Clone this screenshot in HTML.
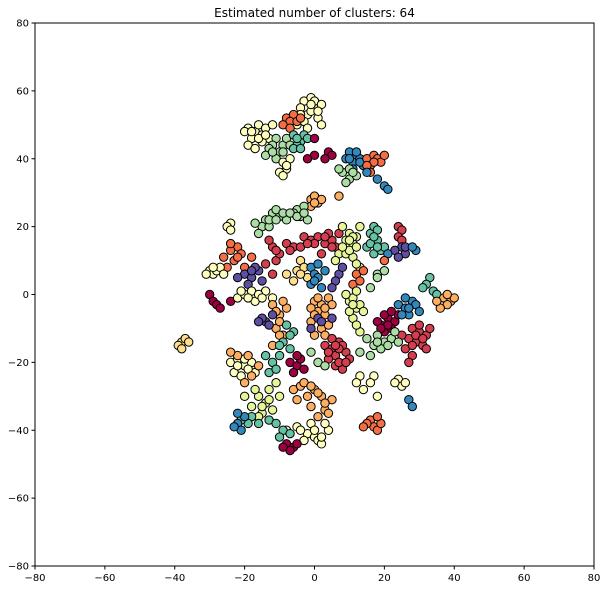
<!DOCTYPE html>
<html><head><meta charset="utf-8"><style>
body{margin:0;background:#fff;}
svg text{font-family:"DejaVu Sans","Liberation Sans",sans-serif;}
</style></head><body>
<svg id="chart" width="606" height="590" xmlns="http://www.w3.org/2000/svg">
<rect width="606" height="590" fill="#fff"/>
<text x="314.5" y="17" font-size="12" text-anchor="middle">Estimated number of clusters: 64</text>
<g id="marks"></g>
<rect x="35" y="23" width="559" height="543" fill="none" stroke="#000" stroke-width="1"/>
<g id="axes"></g>
</svg>
<script>
const palette = ["#9e0142","#d53e4f","#f46d43","#fdae61","#fee08b","#ffffbf","#e6f598","#abdda4","#66c2a5","#3288bd","#5e4fa2"];
const xTicks = [-80,-60,-40,-20,0,20,40,60,80];
const yTicks = [-80,-60,-40,-20,0,20,40,60,80];
const clusterColors = [5,2,5,7,8,5,0,9,2,7,9,3,7,5,1,6,8,1,10,9,2,5,10,1,4,9,10,2,7,0,5,3,10,8,3,10,1,6,0,9,1,7,8,3,5,3,4,0,8,6,8,9,3,5,8,0,2,5,9,5,7];
const clusterPoints = [
[[-3,57],[-1,58],[-4,55],[0,55],[-2,53],[1,52],[-5,50],[2,50],[-3,51],[0,57],[-1,54],[2,56],[-2,49],[-1,56],[1,54],[-4,53]],
[[-8,52],[-6,53],[-7,51],[-5,51],[-9,50],[-4,52],[-7,49]],
[[-19,49],[-17,48],[-15,47],[-18,46],[-20,48],[-16,50],[-14,49],[-13,46],[-19,44],[-17,43],[-15,45],[-12,50],[-18,48],[-16,46],[-14,47]],
[[-11,46],[-9,44],[-8,46],[-12,44],[-10,42],[-13,43],[-14,41],[-11,40],[-7,44],[-12,42],[-9,42]],
[[-6,47],[-4,45],[-5,44],[-3,47],[-6,43],[-2,46],[-5,46],[-4,43]],
[[-9,39],[-8,37],[-10,36],[-7,40],[-9,35],[-8,38]],
[[0,46],[0,41],[-2,40],[4,42],[5,41],[3,40]],
[[10,42],[12,41],[11,39],[13,40],[14,38],[11,37],[9,40],[12,42],[13,39],[10,40]],
[[15,40],[17,41],[16,38],[18,40],[19,39],[16,36],[20,41],[17,39],[15,38]],
[[8,36],[10,34],[9,33],[7,37],[12,35],[10,37],[11,36]],
[[20,32],[21,31],[18,34],[15,36]],
[[-1,28],[0,29],[1,27],[2,28],[7,29],[-1,26],[0,27]],
[[-14,22],[-12,24],[-10,23],[-15,20],[-17,21],[-13,20],[-8,22],[-5,25],[-3,26],[-4,23],[-6,24],[-11,25],[-16,18],[-9,24],[-2,22],[-13,22],[-11,22],[-7,24],[-5,23],[-3,24]],
[[-24,21],[-25,20],[-24,19]],
[[-8,15],[-6,14],[-3,17],[-1,16],[1,17],[3,15],[5,16],[7,18],[6,14],[-4,14],[2,12],[0,15],[4,18],[3,17],[5,14],[-2,15],[-7,13]],
[[8,20],[10,18],[12,17],[9,16],[11,15],[13,20],[7,12],[9,12],[11,11],[13,8],[12,9],[6,10],[10,13],[11,17],[12,14],[8,14],[10,16]],
[[16,18],[18,16],[15,14],[17,12],[19,13],[20,14],[17,20],[18,19],[16,15],[18,14],[17,17]],
[[24,20],[25,19],[24,17],[25,16]],
[[25,14],[26,12],[23,13],[24,11],[26,14]],
[[29,13],[28,14],[21,12]],
[[-22,14],[-24,13],[-26,11],[-23,10],[-20,8],[-25,8],[-18,11],[-21,12],[-24,15],[-22,11]],
[[-30,7],[-29,6],[-28,7],[-31,6],[-27,8],[-26,6],[-29,8]],
[[-20,6],[-18,5],[-22,5],[-16,7],[-15,4],[-19,3],[-17,8],[-18,7]],
[[-12,14],[-11,10],[-14,9],[-10,12],[-12,6],[-13,16],[-11,13]],
[[-4,10],[-5,7],[-2,5],[-6,4],[-8,6],[-3,8],[-4,6]],
[[-1,8],[0,6],[1,5],[-1,3],[2,2],[3,7],[1,9],[0,4]],
[[7,6],[6,4],[5,2],[8,8]],
[[12,6],[14,7],[11,3],[13,4],[20,10]],
[[18,6],[20,7],[18,5],[16,2]],
[[-30,0],[-29,-2],[-28,-3],[-27,-4],[-24,-2]],
[[-22,-1],[-20,0],[-18,1],[-17,-2],[-14,1],[-12,-1],[-21,1],[-16,0],[-19,-1],[-15,-1]],
[[-12,-3],[-10,-6],[-11,-10],[-8,-4],[-9,-12],[-12,-15],[-10,-8],[-9,-2],[-11,-5],[-10,-12]],
[[-14,-8],[-15,-7],[-13,-9],[-12,-6],[-16,-8]],
[[-8,-9],[-6,-11],[-9,-14],[-7,-16],[-10,-15],[-7,-12]],
[[0,-2],[2,-3],[1,-5],[3,-6],[4,-1],[5,-3],[-1,-8],[2,-10],[3,-12],[0,-12],[-1,-4],[4,-9],[1,-1],[3,-4],[0,-6]],
[[1,-7],[2,-8],[-1,-10],[5,-7]],
[[3,-15],[5,-16],[7,-14],[6,-18],[9,-17],[10,-19],[8,-15],[4,-19],[6,-21],[8,-22],[5,-13],[7,-20],[4,-17],[7,-16],[9,-20],[6,-15]],
[[10,-2],[12,-4],[11,-1],[13,-3],[9,0],[14,-5],[11,-7],[13,-11],[12,-9],[10,-5],[12,1],[11,-3]],
[[19,-9],[21,-7],[23,-8],[20,-11],[22,-10],[18,-8],[24,-6],[20,-6],[22,-5],[21,-9],[19,-10]],
[[24,-3],[26,-4],[28,-2],[27,-6],[29,-3],[25,-6],[30,-5],[26,-1],[27,-4]],
[[28,-10],[30,-11],[32,-12],[29,-14],[31,-15],[27,-13],[25,-12],[33,-10],[26,-16],[28,-18],[30,-9],[32,-16],[27,-20],[29,-12],[31,-13],[28,-15]],
[[15,-13],[17,-15],[20,-14],[22,-13],[18,-12],[16,-18],[24,-14],[19,-16],[23,-11],[21,-15],[18,-14]],
[[33,5],[32,3],[34,1],[31,2],[35,0]],
[[37,-1],[39,-2],[40,-1],[38,-3],[36,-4],[35,-2],[38,0]],
[[-24,-20],[-22,-19],[-20,-21],[-18,-20],[-23,-23],[-21,-24],[-17,-23],[-19,-22],[-22,-21],[-20,-19]],
[[-22,-18],[-19,-18],[-16,-21],[-20,-26],[-18,-24],[-24,-17]],
[[-38,-14],[-39,-15],[-37,-13],[-36,-14],[-38,-16]],
[[-7,-20],[-5,-21],[-3,-22],[-4,-19],[-6,-23],[-5,-18]],
[[-12,-20],[-10,-18],[-14,-18],[-13,-23],[-11,-22]],
[[-11,-26],[-13,-28],[-10,-30],[-16,-30],[-18,-33],[-15,-35],[-12,-34],[-14,-32],[-20,-30],[-17,-28],[-15,-33],[-13,-31],[-16,-36]],
[[-18,-36],[-16,-38],[-19,-38],[-21,-37],[-13,-37]],
[[-22,-38],[-21,-40],[-20,-36],[-22,-35],[-23,-39]],
[[-6,-28],[-4,-27],[-2,-30],[-3,-26],[0,-28],[2,-30],[3,-34],[1,-36],[4,-35],[5,-31],[-1,-33],[-5,-31],[-1,-27],[1,-29],[3,-32]],
[[-8,-40],[-5,-39],[-2,-41],[0,-42],[1,-43],[2,-44],[-1,-38],[4,-40],[-3,-43],[3,-38],[-4,-40],[0,-40],[2,-42]],
[[-9,-40],[-7,-41],[-10,-42],[-11,-38]],
[[-8,-44],[-6,-45],[-5,-44],[-7,-46],[-9,-45]],
[[16,-37],[17,-39],[18,-40],[15,-38],[19,-38],[14,-39],[18,-36]],
[[24,-25],[25,-27],[26,-26],[23,-26],[18,-30],[17,-24],[16,-26]],
[[27,-31],[28,-33]],
[[13,-24],[12,-26],[14,-28]],
[[-1,-17],[1,-20],[3,-21],[13,-17]]
];
const X0=35,X1=594,Y0=566,Y1=23;
function sx(v){return X0+(v+80)/160*(X1-X0);}
function sy(v){return Y0-(v+80)/160*(Y0-Y1);}
const NS="http://www.w3.org/2000/svg";
const marks=document.getElementById('marks');
clusterPoints.forEach((pts,ci)=>{
  const g=document.createElementNS(NS,'g');
  
  
  pts.forEach(p=>{
    const c=document.createElementNS(NS,'circle');
    
    
    c.setAttribute('cx',sx(p[0]));c.setAttribute('cy',sy(p[1]));c.setAttribute('r',4.2);
    c.setAttribute('fill',palette[clusterColors[ci]%palette.length]);
    c.setAttribute('stroke','#000');c.setAttribute('stroke-width','1');
    g.appendChild(c);
  });
  marks.appendChild(g);
});
const axes=document.getElementById('axes');
xTicks.forEach(t=>{
  const l=document.createElementNS(NS,'line');
  
  
  l.setAttribute('x1',sx(t));l.setAttribute('x2',sx(t));l.setAttribute('y1',Y0);l.setAttribute('y2',Y0+3.5);l.setAttribute('stroke','#000');
  axes.appendChild(l);
  const tx=document.createElementNS(NS,'text');
  
  
  tx.setAttribute('x',sx(t));tx.setAttribute('y',Y0+15);tx.setAttribute('font-size','10');tx.setAttribute('text-anchor','middle');
  tx.textContent=(t<0?'\u2212'+(-t):t);
  axes.appendChild(tx);
});
yTicks.forEach(t=>{
  const l=document.createElementNS(NS,'line');
  
  
  l.setAttribute('x1',X0-3.5);l.setAttribute('x2',X0);l.setAttribute('y1',sy(t));l.setAttribute('y2',sy(t));l.setAttribute('stroke','#000');
  axes.appendChild(l);
  const tx=document.createElementNS(NS,'text');
  
  
  tx.setAttribute('x',X0-6);tx.setAttribute('y',sy(t)+3.5);tx.setAttribute('font-size','10');tx.setAttribute('text-anchor','end');
  tx.textContent=(t<0?'\u2212'+(-t):t);
  axes.appendChild(tx);
});
</script>
</body></html>
